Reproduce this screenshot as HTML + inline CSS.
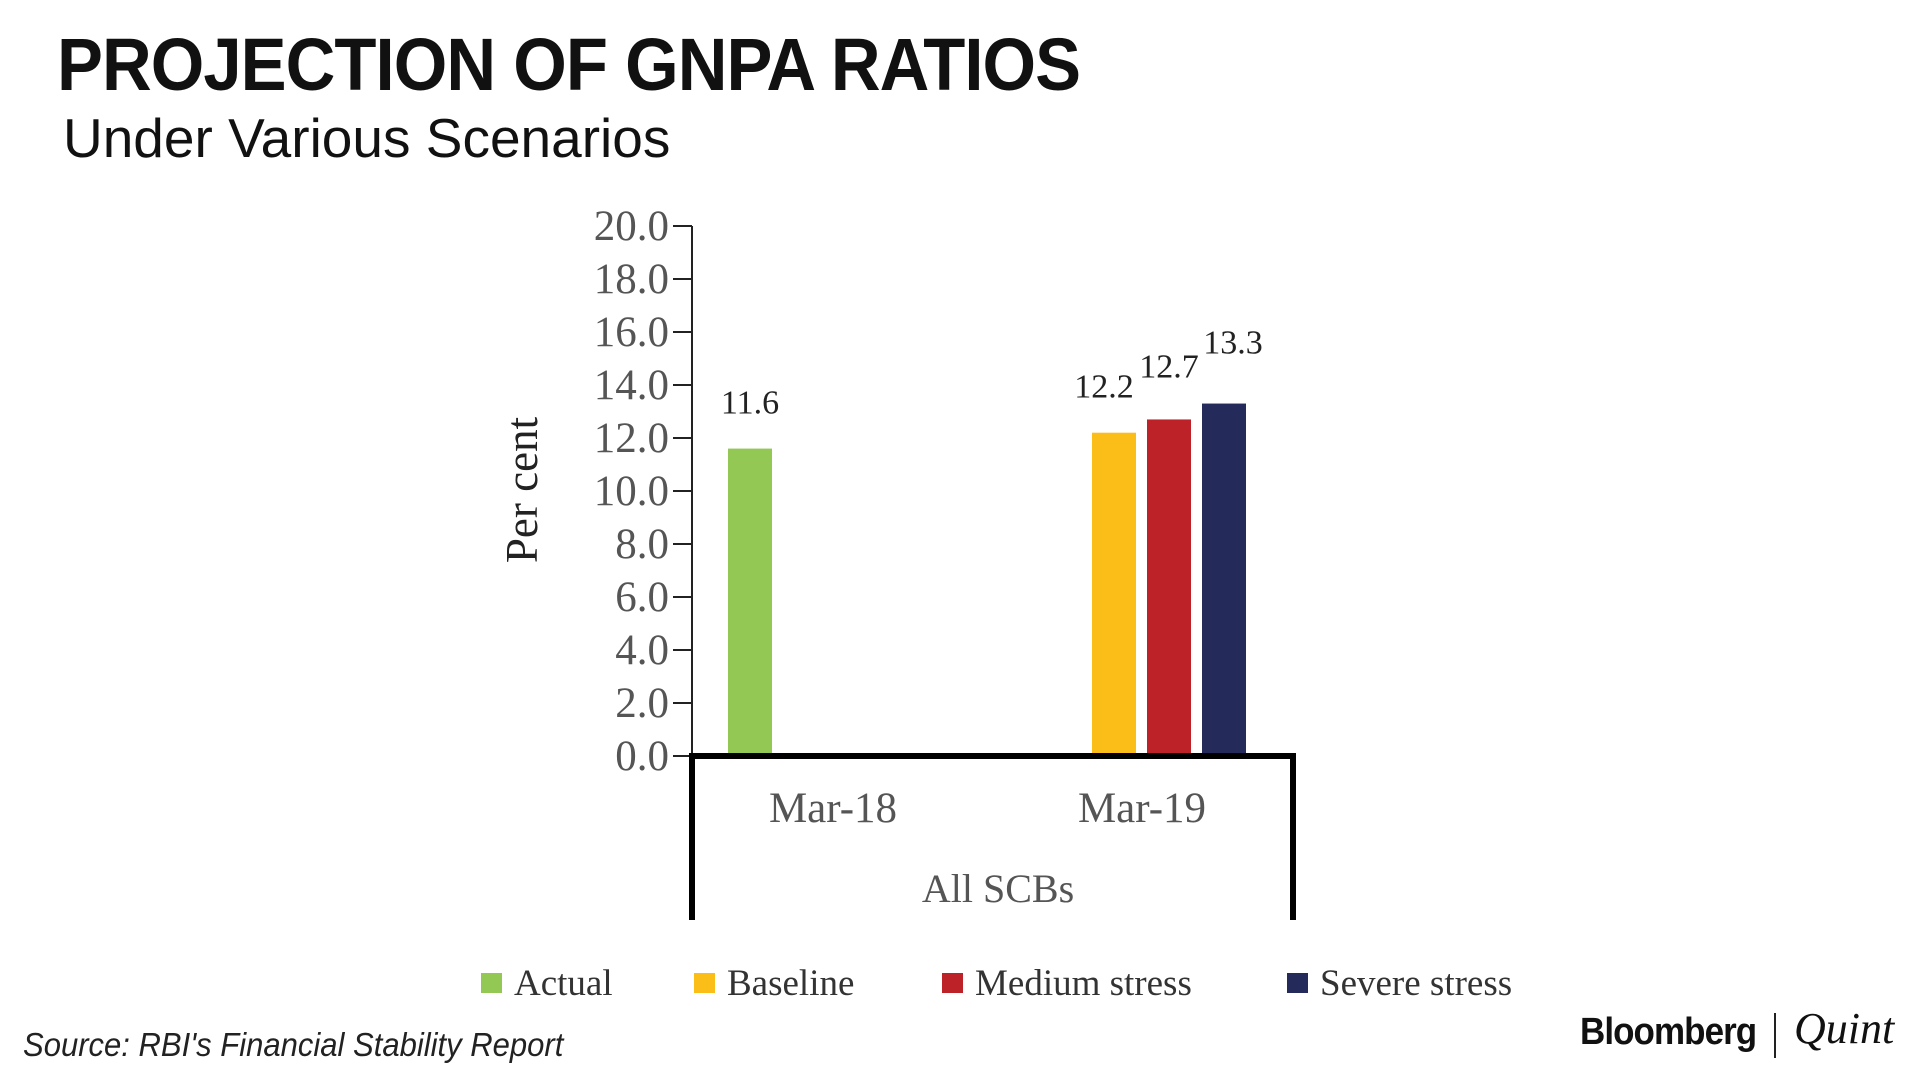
<!DOCTYPE html>
<html><head><meta charset="utf-8"><style>
body{margin:0;width:1920px;height:1080px;background:#fff;overflow:hidden;position:relative;font-family:"Liberation Sans",sans-serif}
.t{position:absolute;white-space:nowrap}
</style></head><body>
<div class="t" style="left:57px;top:22px;font-size:74px;font-weight:bold;color:#111;transform:scaleX(0.93);transform-origin:left top;letter-spacing:-1px">PROJECTION OF GNPA RATIOS</div>
<div class="t" style="left:63px;top:106px;font-size:55px;color:#111">Under Various Scenarios</div>
<svg id="chart" width="1920" height="1080" style="position:absolute;left:0;top:0"></svg>
<div class="t" style="left:23px;top:1026px;font-size:33px;font-style:italic;color:#222;transform:scaleX(0.94);transform-origin:left top">Source: RBI's Financial Stability Report</div>
<div class="t" style="left:1580px;top:1011px;font-size:38px;font-weight:bold;color:#111;transform:scaleX(0.92);transform-origin:left top;letter-spacing:-1px">Bloomberg</div>
<div style="position:absolute;left:1774px;top:1013px;width:2px;height:45px;background:#222"></div>
<div class="t" style="left:1794px;top:1003px;font-size:44px;font-style:italic;font-family:'Liberation Serif',serif;color:#111">Quint</div>
<script>
const categories=["Mar-18","Mar-19"];
const seriesNames=["Actual","Baseline","Medium stress","Severe stress"];
const seriesColors=["#92c853","#fbbd18","#be2229","#242a5a"];
const values=[[11.6,null,null,null],[null,12.2,12.7,13.3]];
const valueLabels=[["11.6"],["12.2","12.7","13.3"]];
const yTicks=[0,2,4,6,8,10,12,14,16,18,20];
const yTickLabels=["0.0","2.0","4.0","6.0","8.0","10.0","12.0","14.0","16.0","18.0","20.0"];
const svg=document.getElementById('chart');
const NS="http://www.w3.org/2000/svg";
function y(v){return 756-(v/20)*530;}
function mk(tag,a,txt){const e=document.createElementNS(NS,tag);for(const k in a)e.setAttribute(k,a[k]);if(txt!==undefined)e.textContent=txt;svg.appendChild(e);return e;}
const serif='"Liberation Serif",serif';
let ax=mk('line',{x1:692,y1:226,x2:692,y2:756,stroke:'#222','stroke-width':2});


yTicks.forEach((v,i)=>{
 let l=mk('line',{x1:673,x2:692,y1:y(v),y2:y(v),stroke:'#222','stroke-width':2});
 
 
 let t=mk('text',{x:669,y:y(v)+14,'text-anchor':'end','font-family':serif,'font-size':43,fill:'#555'},yTickLabels[i]);
 
 
});
let yt=mk('text',{x:0,y:0,transform:'translate(537,490) rotate(-90)','text-anchor':'middle','font-family':serif,'font-size':45,fill:'#222'},'Per cent');


const catStart=[728,1092];
const bw=44,gap=11;
const lblDx=[-10,0,9];
const lblDy=[47,54,62];
values.forEach((row,ci)=>{
 let k=0;
 row.forEach((v,si)=>{
  if(v===null)return;
  const x=catStart[ci]+k*(bw+gap);
  let r=mk('rect',{x:x,y:y(v),width:bw,height:756-y(v),fill:seriesColors[si]});
  
  
  let t=mk('text',{x:x+bw/2+(ci?lblDx[k]:0),y:y(v)-(ci?lblDy[k]:47)+12,'text-anchor':'middle','font-family':serif,'font-size':34,fill:'#222'},valueLabels[ci][k]);
  
  
  k++;
 });
});
let bx=mk('path',{d:'M692 920 V756 H1293 V920',fill:'none',stroke:'#000','stroke-width':6});


const catCenter=[833,1142];
categories.forEach((c,i)=>{
 let t=mk('text',{x:catCenter[i],y:822,'text-anchor':'middle','font-family':serif,'font-size':43,fill:'#555'},c);
 
 
});
let g=mk('text',{x:998,y:902,'text-anchor':'middle','font-family':serif,'font-size':40,fill:'#555'},'All SCBs');


const legX=[481,694,942,1287];
seriesNames.forEach((n,i)=>{
 let s=mk('rect',{x:legX[i],y:973,width:21,height:20,fill:seriesColors[i]});
 
 
 let t=mk('text',{x:legX[i]+33,y:995,'font-family':serif,'font-size':37,fill:'#333'},n);
 
 
});
</script>
</body></html>
